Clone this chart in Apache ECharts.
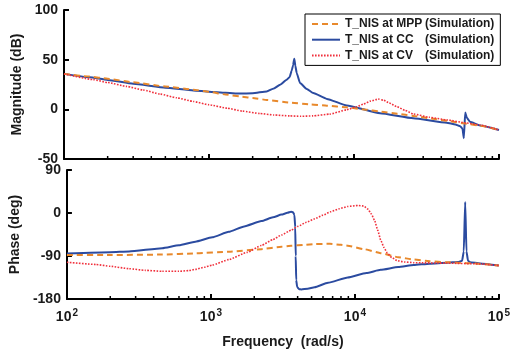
<!DOCTYPE html>
<html>
<head>
<meta charset="utf-8">
<script src="https://cdn.jsdelivr.net/npm/echarts@6/dist/echarts.min.js"></script>
<style>
  html, body { margin: 0; padding: 0; background: #fff; }
  #chart { width: 513px; height: 350px; }
</style>
</head>
<body>
<div id="chart"></div>
<script>
// Bode plot of T_NIS at three operating points (MPP, CC, CV)

// ---- Magnitude (dB) ----
const mppMagFreq = [100, 150, 200, 300, 500, 780, 1000, 1300, 1630, 2000, 2500, 3600, 5000, 6500, 8900, 12000, 15100, 20000, 25600, 35000, 43500, 60000, 74000, 100000];
const mppMag     = [35.7, 33, 30.8, 27.2, 23, 19.8, 17.6, 15, 13, 11.4, 9.5, 6.8, 5, 3.7, 2, -0.3, -2.2, -4.4, -6.6, -9.5, -11.5, -14.5, -16.5, -20.8];

const ccMagFreq = [100, 150, 200, 300, 500, 780, 1000, 1300, 1630, 2000, 2500, 2800, 3090, 3435, 3600, 3718, 3800, 3873, 3940, 4024, 4245, 4720, 5240, 6500, 8913, 15100, 25640, 43550, 50000, 54000, 56000, 57200, 58500, 60000, 63000, 74000, 100000];
const ccMag     = [35.7, 32.3, 29.6, 25.8, 21.8, 19.0, 17.8, 16.6, 15.9, 16.2, 18, 21, 24.8, 29.9, 32.5, 39, 44.5, 50.8, 44, 36.7, 26.5, 20.5, 16.4, 10.5, 3.9, -3.9, -8.9, -13.4, -15.2, -17, -19.5, -29, -3.2, -8.5, -12.5, -16.3, -20.8];

const cvMagFreq = [100, 159, 200, 270, 350, 459, 600, 780, 1000, 1330, 1700, 2240, 2800, 3600, 4300, 5200, 6800, 8900, 10500, 11600, 13000, 14700, 16000, 17500, 19600, 22500, 25600, 33000, 43500, 60000, 74000, 100000];
const cvMag     = [35.7, 29.9, 27, 23.1, 19.5, 15.4, 11.6, 7.9, 4.6, 1.2, -1.8, -4.2, -5.7, -6.6, -7, -6.6, -4.8, -0.5, 2.8, 5.2, 8.3, 10.3, 9.2, 6.4, 2.9, -1, -4.6, -8, -10.6, -13.8, -15.8, -20.8];

// ---- Phase (deg) ----
const mppPhaseFreq = [100, 200, 459, 780, 1330, 2240, 3090, 3600, 4500, 5240, 6700, 8000, 8913, 11600, 15100, 20000, 25640, 33000, 43550, 60000, 74000, 100000];
const mppPhase     = [-88, -88, -87, -84.5, -81, -75.7, -70.5, -68.5, -66.5, -65, -64.5, -66.5, -68.5, -75.7, -84, -92.5, -97.5, -101, -103, -105, -106.5, -110];

const ccPhaseFreq = [100, 200, 270, 459, 600, 780, 1020, 1330, 1700, 2240, 2700, 3090, 3400, 3600, 3720, 3800, 3850, 3880, 3910, 3970, 4100, 4245, 4700, 5240, 6500, 8913, 12000, 15100, 20000, 25640, 33000, 43550, 52000, 55500, 57000, 58300, 59500, 61000, 63000, 74000, 100000];
const ccPhase     = [-85, -82, -80.5, -73.6, -67.5, -60, -51, -39.5, -28, -17, -9, -3.4, 0.5, 2.7, 1.5, -4, -30, -90, -140, -155, -159.5, -160, -158.5, -155.5, -146, -135, -125.5, -119, -113, -109, -106, -104, -102.5, -100, -80, 23, -80, -100, -103, -105.5, -110];

const cvPhaseFreq = [100, 159, 200, 270, 350, 459, 600, 700, 780, 900, 1020, 1330, 1780, 2240, 2700, 3090, 3600, 4024, 4600, 5240, 6000, 6800, 7800, 8913, 10500, 11500, 12300, 13000, 13700, 14400, 15100, 15900, 16800, 18000, 19600, 22000, 25640, 43550, 74000, 100000];
const cvPhase     = [-103, -107.7, -111.5, -116.6, -120, -122, -122, -120.5, -118, -113.5, -109, -97.5, -82.5, -68, -55.5, -46, -36, -28, -19.5, -12.3, -4.5, 2.7, 9, 13.7, 15.7, 14.5, 8.2, -2, -15.7, -36, -56.6, -72, -84, -93, -99.6, -102.5, -104, -105, -106.5, -110];

// ---- Axes ----
const freqMin = 100, freqMax = 100000;
const magTicks = { min: -50, max: 100, interval: 50 };
const phaseTicks = { min: -180, max: 90, interval: 90 };
const minorFreqs = [200, 300, 400, 500, 600, 700, 800, 900,
                    2000, 3000, 4000, 5000, 6000, 7000, 8000, 9000,
                    20000, 30000, 40000, 50000, 60000, 70000, 80000, 90000];

const names = {
  mpp: 'T_NIS at MPP (Simulation)',
  cc:  'T_NIS at CC (Simulation)',
  cv:  'T_NIS at CV (Simulation)'
};
const colors = { mpp: '#E8892C', cc: '#2B4BA0', cv: '#F0303C' };
const FONT = '"Liberation Sans", Arial, sans-serif';
const INK = '#1a1a1a';

function pairs(xs, ys) { return xs.map((x, i) => [x, ys[i]]); }

function curve(key, xs, ys, idx) {
  const style = {
    mpp: { color: colors.mpp, width: 2, type: [6, 4] },
    cc:  { color: colors.cc,  width: 2, type: 'solid' },
    cv:  { color: colors.cv,  width: 1.6, type: [1.6, 1.4] }
  }[key];
  return {
    name: names[key], type: 'line', xAxisIndex: idx, yAxisIndex: idx,
    data: pairs(xs, ys), showSymbol: false, symbol: 'none',
    smooth: 0.15, smoothMonotone: 'x',
    lineStyle: style, itemStyle: { color: style.color },
    z: key === 'cc' ? 3 : (key === 'mpp' ? 4 : 5),
    animation: false
  };
}

// small inward minor ticks at 2..9 x 10^n on the log frequency axis
function minorTickSeries(idx, yBase) {
  return {
    type: 'custom', xAxisIndex: idx, yAxisIndex: idx, silent: true, clip: false, z: 10,
    data: minorFreqs.map(f => [f, yBase]),
    renderItem: (params, api) => {
      const p = api.coord([api.value(0), api.value(1)]);
      return { type: 'line', shape: { x1: p[0], y1: p[1], x2: p[0], y2: p[1] - 3 },
               style: { stroke: '#000', lineWidth: 1.5 } };
    },
    animation: false
  };
}

function xAxisDef(idx, showLabels) {
  return {
    type: 'log', logBase: 10, gridIndex: idx, min: freqMin, max: freqMax,
    axisLine: { show: true, onZero: false, lineStyle: { color: '#000', width: 2 } },
    axisTick: { show: true, inside: true, length: 5, lineStyle: { color: '#000', width: 2 } },
    splitLine: { show: false },
    axisLabel: {
      show: showLabels, margin: 9, color: INK,
      formatter: v => '{b|10}{s|' + Math.round(Math.log10(v)) + '}',
      rich: {
        b: { fontFamily: FONT, fontWeight: 'bold', fontSize: 14, color: INK },
        s: { fontFamily: FONT, fontWeight: 'bold', fontSize: 10, color: INK, padding: [0, 0, 9, 1] }
      }
    },
    name: showLabels ? 'Frequency  (rad/s)' : '',
    nameLocation: 'middle', nameGap: 36,
    nameTextStyle: { fontFamily: FONT, fontWeight: 'bold', fontSize: 14, color: INK }
  };
}

function yAxisDef(idx, ticks, title, gap) {
  return {
    type: 'value', gridIndex: idx, min: ticks.min, max: ticks.max, interval: ticks.interval,
    axisLine: { show: true, onZero: false, lineStyle: { color: '#000', width: 2 } },
    axisTick: { show: true, inside: true, length: 5, lineStyle: { color: '#000', width: 2 } },
    splitLine: { show: false },
    axisLabel: { margin: 6, fontFamily: FONT, fontWeight: 'bold', fontSize: 14, color: INK },
    name: title, nameLocation: 'middle', nameGap: gap,
    nameTextStyle: { fontFamily: FONT, fontWeight: 'bold', fontSize: 14, color: INK }
  };
}

const chart = echarts.init(document.getElementById('chart'), null, { renderer: 'canvas' });
chart.setOption({
  animation: false,
  backgroundColor: '#fff',
  grid: [
    { left: 64, top: 10, width: 435, height: 149 },
    { left: 64, top: 170, width: 435, height: 132 }
  ],
  xAxis: [xAxisDef(0, false), xAxisDef(1, true)],
  yAxis: [
    yAxisDef(0, magTicks, 'Magnitude (dB)', 38),
    yAxisDef(1, phaseTicks, 'Phase (deg)', 44)
  ],
  legend: {
    data: [names.mpp, names.cc, names.cv],
    orient: 'vertical', left: 305, top: 14,
    backgroundColor: '#fff', borderColor: '#000', borderWidth: 1,
    padding: [4, 6, 4, 6], itemGap: 3.7, itemWidth: 28, itemHeight: 10,
    itemStyle: { opacity: 0 },
    formatter: n => {
      const i = n.indexOf(' (');
      return '{a|' + n.slice(0, i) + '}{b|' + n.slice(i + 1) + '}';
    },
    textStyle: {
      fontFamily: FONT, fontWeight: 'bold', fontSize: 12, color: INK,
      rich: {
        a: { fontFamily: FONT, fontWeight: 'bold', fontSize: 12, color: INK, width: 80, lineHeight: 13 },
        b: { fontFamily: FONT, fontWeight: 'bold', fontSize: 12, color: INK, lineHeight: 13 }
      }
    }
  },
  series: [
    curve('mpp', mppMagFreq, mppMag, 0),
    curve('cc',  ccMagFreq,  ccMag,  0),
    curve('cv',  cvMagFreq,  cvMag,  0),
    curve('mpp', mppPhaseFreq, mppPhase, 1),
    curve('cc',  ccPhaseFreq,  ccPhase,  1),
    curve('cv',  cvPhaseFreq,  cvPhase,  1),
    minorTickSeries(0, magTicks.min),
    minorTickSeries(1, phaseTicks.min)
  ]
});
</script>
</body>
</html>
